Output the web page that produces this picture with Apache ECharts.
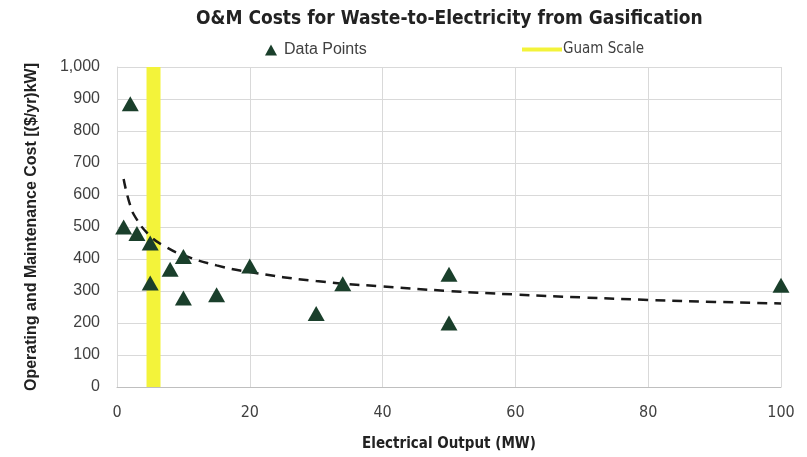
<!DOCTYPE html>
<html>
<head>
<meta charset="utf-8">
<script src="https://cdn.jsdelivr.net/npm/echarts@6/dist/echarts.min.js"></script>
<style>html,body{margin:0;padding:0;background:#fff}#c{width:807px;height:457px}</style>
</head>
<body>
<div id="c"></div>
<script>
// Data
const outputMW = [1, 2, 3, 5, 5, 8, 10, 10, 15, 20, 30, 34, 50, 50, 100];
const omCost = [500, 885, 480, 450, 325, 368, 408, 278, 288, 378, 230, 323, 352, 200, 318];
const trendX = [1, 2, 3, 5, 7, 10, 15, 20, 30, 40, 50, 60, 70, 80, 90, 100];
const trendY = [650, 567, 523, 472, 442, 412, 380, 359, 331, 314, 300, 289, 280, 272, 266, 261];
const guamX = [5.5, 5.5];
const guamY = [0, 1000];

const pts = outputMW.map((x, i) => [x, omCost[i]]);
const trend = trendX.map((x, i) => [x, trendY[i]]);
const guam = guamX.map((x, i) => [x, guamY[i]]);

const chart = echarts.init(document.getElementById('c'));
const labelColor = '#404040';
const narrow = 'DejaVu Sans Condensed, Liberation Sans';
chart.setOption({
  animation: false,
  backgroundColor: '#ffffff',
  title: {
    text: 'O&M Costs for Waste-to-Electricity from Gasification',
    left: 191, top: 5,
    textStyle: { fontFamily: narrow, fontWeight: 'bold', fontSize: 19, color: '#222' }
  },
  legend: [
    {
      data: [{ name: 'Data Points', icon: 'triangle' }],
      left: 260, top: 37, itemWidth: 12, itemHeight: 11, itemGap: 8,
      textStyle: { fontFamily: 'Liberation Sans', fontSize: 16, color: labelColor, padding: [0, 0, 0, 2] }
    },
    {
      data: [{ name: 'Guam Scale', icon: 'rect' }],
      left: 517, top: 37, itemWidth: 40, itemHeight: 4, itemGap: 0,
      textStyle: { fontFamily: narrow, fontSize: 15, color: labelColor, padding: [0, 0, 0, -4] }
    }
  ],
  grid: { left: 117, right: 26, top: 67, bottom: 67 },
  xAxis: {
    type: 'value', min: 0, max: 100, interval: 20,
    name: 'Electrical Output (MW)', nameLocation: 'middle', nameGap: 50,
    nameTextStyle: { fontFamily: narrow, fontWeight: 'bold', fontSize: 15, color: '#222' },
    axisLine: { show: true, lineStyle: { color: '#bfbfbf', width: 1 } },
    axisTick: { show: false },
    axisLabel: { fontFamily: narrow, fontSize: 16, color: labelColor, margin: 18 },
    splitLine: { show: true, lineStyle: { color: '#d9d9d9' } }
  },
  yAxis: {
    type: 'value', min: 0, max: 1000, interval: 100,
    name: 'Operating and Maintenance Cost [($/yr)kW]', nameLocation: 'middle', nameGap: 77,
    nameTextStyle: { fontFamily: 'Liberation Sans', fontWeight: 'bold', fontSize: 16, color: '#222' },
    axisLine: { show: true, lineStyle: { color: '#d9d9d9' } },
    axisTick: { show: false },
    axisLabel: {
      fontFamily: 'Liberation Sans', fontSize: 16, color: labelColor, margin: 17,
      formatter: v => v.toLocaleString('en-US')
    },
    splitLine: { show: true, lineStyle: { color: '#d9d9d9' } }
  },
  series: [
    {
      name: 'Guam Scale', type: 'line', data: guam, symbol: 'none',
      lineStyle: { color: '#f3f33a', width: 14 }, itemStyle: { color: '#f3f33a' }, z: 1
    },
    {
      name: 'Trend', type: 'line', data: trend, symbol: 'none', smooth: true,
      lineStyle: { color: '#1a1a1a', width: 2.5, type: [10, 7] }, z: 2
    },
    {
      name: 'Data Points', type: 'scatter', data: pts, symbol: 'triangle', symbolSize: [17, 15],
      itemStyle: { color: '#1a3f2b', opacity: 1 }, z: 3
    }
  ]
});
</script>
</body>
</html>
